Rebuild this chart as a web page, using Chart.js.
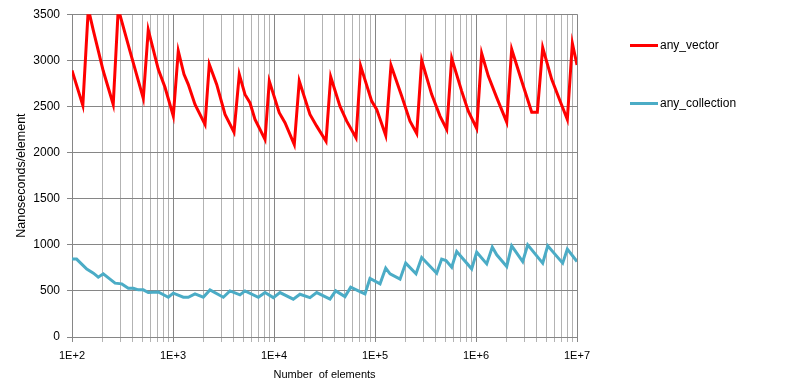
<!DOCTYPE html>
<html><head><meta charset="utf-8">
<script src="https://cdn.jsdelivr.net/npm/chart.js@4/dist/chart.umd.min.js"></script>
<style>
html,body{margin:0;padding:0;background:#fff;}
#wrap{position:relative;width:795px;height:390px;overflow:hidden;}
#c{position:absolute;left:0;top:0;}
.leg{position:absolute;left:630px;font:12px "Liberation Sans",Arial,sans-serif;color:#000;white-space:nowrap;line-height:14px;}
.leg .sw{position:absolute;left:0;top:6px;width:28px;height:3px;}
.leg .tx{position:absolute;left:30px;top:0;}
</style></head><body>
<div id="wrap"><canvas id="c" width="795" height="390"></canvas></div>
<script>
// ---- data ----
const seriesNames = ['any_vector', 'any_collection'];
const seriesColors = ['#ff0000', '#4bacc6'];

const vectorN = [100,128,145,163,204,256,287,375,508,569,715,833,1007,1128,1285,1416,1651,2075,2287,2708,3275,4018,4533,5160,5785,6486,8147,8985,11270,12850,15880,17790,22700,26470,32750,36420,44960,52460,64880,72140,92700,103900,127700,144000,183700,222100,258900,289900,363800,440300,513100,574600,721200,839000,1016000,1138000,1324000,1604000,2014000,2256000,2833000,3563000,4047000,4575000,5618000,6797000,8022000,8995000,10000000];
const vectorNs = [2890,2511,3560,3319,2884,2522,3560,3100,2587,3330,2902,2707,2395,3101,2848,2739,2522,2304,2957,2739,2413,2221,2848,2630,2540,2359,2141,2775,2432,2323,2087,2775,2413,2286,2123,2822,2503,2340,2160,2938,2558,2468,2185,2946,2612,2340,2207,3000,2631,2395,2250,3022,2666,2449,2261,3076,2829,2595,2330,3120,2775,2438,2438,3138,2794,2558,2359,3185,2949];

const collectionN = [100,111,140,163,182,204,267,311,361,405,453,508,569,715,898,1007,1265,1416,1651,1995,2323,3148,3664,4603,5160,6998,8147,9846,11460,15520,18070,22700,26470,35840,40810,50460,57430,71000,79590,89160,112200,127700,140900,177000,201400,254700,289900,408000,457300,504700,574600,644000,905900,1016000,1277000,1450000,1604000,2014000,2256000,2899000,3250000,4575000,5129000,7213000,8022000,10000000];
const collectionNs = [845,845,736,692,649,685,584,576,529,529,511,511,482,489,431,475,431,431,467,431,511,431,500,457,500,431,482,427,482,410,464,427,482,410,500,438,540,493,467,634,576,747,685,627,801,685,862,692,845,829,757,928,739,920,793,975,891,764,989,818,1000,801,989,801,953,818];

const xTickLabels = {100:'1E+2', 1000:'1E+3', 10000:'1E+4', 100000:'1E+5', 1000000:'1E+6', 10000000:'1E+7'};
const xMin = 100, xMax = 10000000;
const yMin = 0, yMax = 3500, yStep = 500;
const xTitle = 'Number  of elements';
const yTitle = 'Nanoseconds/element';

// ---- build ----
const FONT = '"Liberation Sans", Arial, sans-serif';
const toPts = (xs, ys) => xs.map((x, i) => ({x: x, y: ys[i]}));

const majorGrid = '#868686', minorGrid = '#b3b3b3';

new Chart(document.getElementById('c'), {
  type: 'line',
  data: {
    datasets: [
      {label: seriesNames[0], data: toPts(vectorN, vectorNs), borderColor: seriesColors[0], backgroundColor: seriesColors[0], borderWidth: 3, pointRadius: 0, tension: 0, clip: 0},
      {label: seriesNames[1], data: toPts(collectionN, collectionNs), borderColor: seriesColors[1], backgroundColor: seriesColors[1], borderWidth: 3, pointRadius: 0, tension: 0, clip: 0}
    ]
  },
  options: {
    responsive: false,
    animation: false,
    parsing: false,
    layout: {padding: {left: 0, right: 218, top: 14, bottom: 0}},
    plugins: {legend: {display: false}, tooltip: {enabled: false}},
    scales: {
      x: {
        type: 'logarithmic',
        min: xMin, max: xMax,
        afterBuildTicks: (s) => {
          const t = [];
          for (let e = 2; e <= 7; e++) {
            for (let m = 1; m <= 9; m++) {
              const v = m * Math.pow(10, e);
              if (v > xMax) break;
              t.push({value: v, major: m === 1});
            }
          }
          s.ticks = t;
        },
        afterFit: (s) => { s.height = 53; },
        ticks: {
          autoSkip: false, maxRotation: 0, minRotation: 0,
          color: '#000', font: {family: FONT, size: 11}, padding: 7,
          callback: (v) => xTickLabels[v] || ''
        },
        grid: {
          color: (ctx) => (ctx.tick && ctx.tick.major) ? majorGrid : minorGrid,
          tickColor: (ctx) => (ctx.tick && ctx.tick.major) ? majorGrid : minorGrid,
          tickLength: 5, lineWidth: 1
        },
        border: {color: majorGrid},
        title: {display: true, text: xTitle, color: '#000', font: {family: FONT, size: 11}, padding: {top: 4, bottom: 8}}
      },
      y: {
        type: 'linear',
        min: yMin, max: yMax,
        afterFit: (s) => { s.width = 72; },
        ticks: {
          stepSize: yStep, color: '#000', font: {family: FONT, size: 12}, padding: 7,
          callback: (v) => String(v)
        },
        grid: {color: majorGrid, tickColor: majorGrid, tickLength: 5, lineWidth: 1},
        border: {color: majorGrid},
        title: {display: true, text: yTitle, color: '#000', font: {family: FONT, size: 12.5}, padding: {top: 14, bottom: 0}}
      }
    }
  }
});

// ---- legend (HTML text) ----
const legendTops = [38, 96];
const wrap = document.getElementById('wrap');
seriesNames.forEach((name, i) => {
  const d = document.createElement('div');
  d.className = 'leg';
  d.style.top = legendTops[i] + 'px';
  d.innerHTML = '<span class="sw" style="background:' + seriesColors[i] + '"></span><span class="tx">' + name + '</span>';
  wrap.appendChild(d);
});
</script>
</body></html>
